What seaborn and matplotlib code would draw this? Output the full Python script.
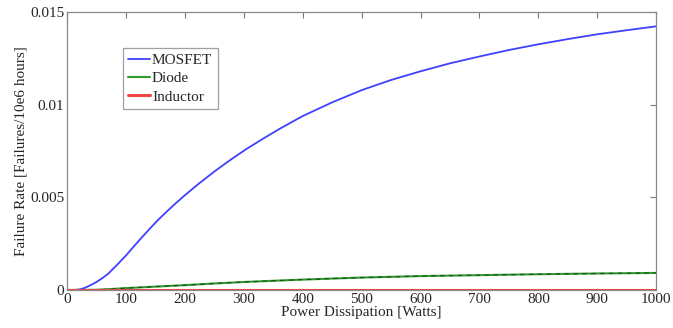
import matplotlib
matplotlib.use('Agg')
import matplotlib.pyplot as plt
import seaborn as sns

sns.set_style('white')
plt.rcParams['font.family'] = ['Liberation Serif', 'DejaVu Serif']

# values
mosfet_w = [0, 10, 20, 30, 40, 50, 60, 70, 85, 100, 113, 127, 141, 155, 170, 185, 200, 225,
            250, 275, 305, 335, 362, 400, 450, 500, 550, 600, 650, 700, 750, 800, 850, 900,
            950, 1000]
mosfet_rate = [0, 0, 0.00002, 0.00011, 0.00026, 0.00043, 0.00064, 0.00088, 0.00136, 0.00186,
               0.00234, 0.00284, 0.00333, 0.0038, 0.00426, 0.0047, 0.00512, 0.00578, 0.0064,
               0.00698, 0.00763, 0.00822, 0.00873, 0.0094, 0.01014, 0.0108, 0.01135, 0.01182,
               0.01225, 0.01262, 0.01297, 0.01328, 0.01356, 0.01382, 0.01404, 0.01425]
diode_w = [0, 25, 50, 75, 100, 150, 200, 250, 300, 400, 500, 600, 700, 800, 900, 1000]
diode_rate = [0, 0, 0.00001, 0.00005, 0.0001, 0.00018, 0.00026, 0.00035, 0.00043, 0.00056,
              0.00067, 0.00075, 0.0008, 0.00085, 0.00089, 0.00092]
inductor_w = [0, 100, 200, 300, 400, 500, 600, 700, 800, 900, 1000]
inductor_rate = [0, 0, 0, 0, 0, 0, 0, 0, 0, 0, 0]

fig, ax = plt.subplots(figsize=(6.73, 3.28), dpi=100)
fig.subplots_adjust(left=0.0996, right=0.975, top=0.962, bottom=0.116)

sns.lineplot(x=mosfet_w, y=mosfet_rate, ax=ax, color='#4040ff', lw=1.3, label='MOSFET')
sns.lineplot(x=diode_w, y=diode_rate, ax=ax, color='#2e9b2e', lw=1.5, label='Diode')
# darker dashes drawn over the diode curve, as in the original
sns.lineplot(x=diode_w, y=diode_rate, ax=ax, color='#1c4a1c', lw=0.8, ls=(0, (4, 4)), legend=False)
sns.lineplot(x=inductor_w, y=inductor_rate, ax=ax, color='#ee4444', lw=2.2, label='Inductor')

ax.set_xlim(0, 1000)
ax.set_ylim(0, 0.015)
ax.set_xticks(range(0, 1001, 100))
ax.set_yticks([0, 0.005, 0.01, 0.015])
ax.set_yticklabels(['0', '0.005', '0.01', '0.015'])
ax.set_xlabel('Power Dissipation [Watts]', fontsize=11, labelpad=0)
ax.set_ylabel('Failure Rate [Failures/10e6 hours]', fontsize=11, labelpad=2)
ax.tick_params(direction='in', length=4, width=0.8, color='#777777', labelsize=11,
               top=True, right=True, pad=2)
for s in ax.spines.values():
    s.set_color('#888888')
    s.set_linewidth(0.9)

leg = ax.legend(loc='upper left', bbox_to_anchor=(0.095, 0.872), fontsize=11, frameon=True,
                fancybox=False, handlelength=1.45, handletextpad=0.1, borderpad=0.35,
                labelspacing=0.3, borderaxespad=0)
leg.get_frame().set_edgecolor('#888888')
leg.get_frame().set_linewidth(0.9)

plt.savefig('out.png', dpi=100)
